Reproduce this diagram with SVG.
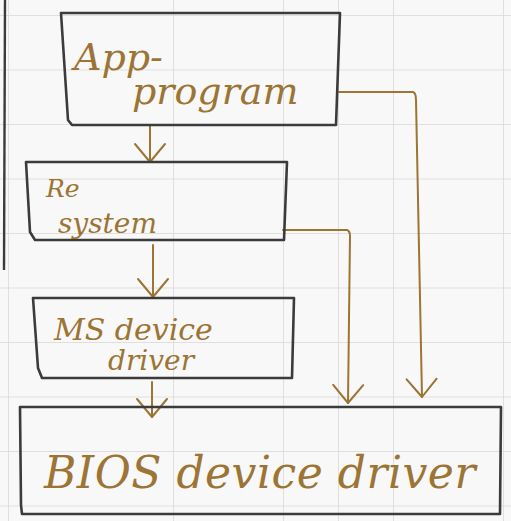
<svg xmlns="http://www.w3.org/2000/svg" width="511" height="521" viewBox="0 0 511 521">
<defs>
<pattern id="grid" x="8" y="15" width="55" height="54.5" patternUnits="userSpaceOnUse">
<path d="M0 0 V54.5 M0 0 H55" fill="none" stroke="#d8d8d8" stroke-width="1.5"/>
</pattern>
<marker id="v" viewBox="0 0 22 34" refX="20" refY="17" markerWidth="22" markerHeight="34" markerUnits="userSpaceOnUse" orient="auto">
<path d="M2 2 L20 17 L2 32" fill="none" stroke="#9c7434" stroke-width="2" stroke-linecap="round" stroke-linejoin="round"/>
</marker>
</defs>
<style>
.box{fill:none;stroke:#3b3b3b;stroke-width:2.6;stroke-linejoin:round}
.con{fill:none;stroke:#9c7434;stroke-width:2;stroke-linecap:round}
.t{font-family:"DejaVu Serif","Liberation Serif",serif;font-style:italic;fill:#9c7434}
</style>
<rect width="511" height="521" fill="#f8f8f8"/>
<rect width="511" height="521" fill="url(#grid)"/>
<path d="M5 0 L4 270" fill="none" stroke="#3b3b3b" stroke-width="2.4"/>
<g id="connectors">
<path class="con" d="M150 125 V162" marker-end="url(#v)"/>
<path class="con" d="M153 245 V297" marker-end="url(#v)"/>
<path class="con" d="M152 382 V417" marker-end="url(#v)"/>
<path class="con" d="M339 92 H413 Q416 93 416 100 L422 397" marker-end="url(#v)"/>
<path class="con" d="M283 230 H347 Q350 231 350 236 L348 403" marker-end="url(#v)"/>
</g>
<g id="app">
<path class="box" d="M61 13 H340 L336 125 H72 L68 120 Z"/>
<text class="t" x="74" y="70" font-size="38">App-</text>
<text class="t" x="132" y="104" font-size="38">program</text>
</g>
<g id="re">
<path class="box" d="M26 162 H287 L284 240 H35 L30 232 Z"/>
<text class="t" x="46" y="197" font-size="25">Re</text>
<text class="t" x="58" y="233" font-size="28">system</text>
</g>
<g id="ms">
<path class="box" d="M33 298 H294 L292 378 H42 L38 368 Z"/>
<text class="t" x="54" y="340" font-size="30">MS device</text>
<text class="t" x="108" y="370" font-size="28">driver</text>
</g>
<g id="bios">
<path class="box" d="M20 407 H501 L500 514 H22 L21 505 Z"/>
<text class="t" x="44" y="488" font-size="44" letter-spacing="0.5">BIOS device driver</text>
</g>
</svg>
